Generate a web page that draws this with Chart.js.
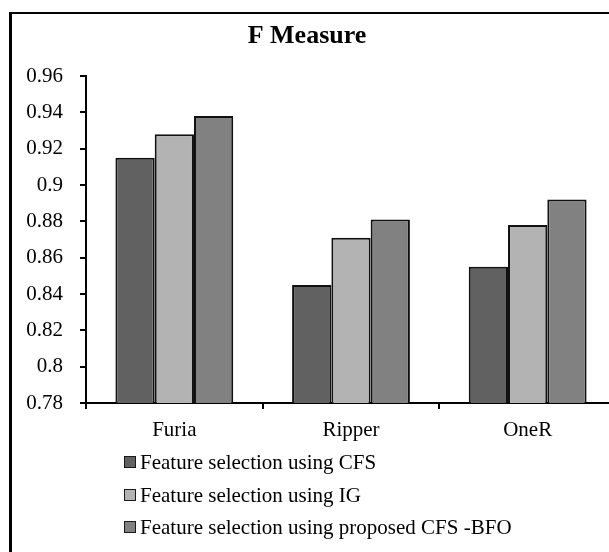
<!DOCTYPE html>
<html>
<head>
<meta charset="utf-8">
<title>F Measure</title>
<script src="https://cdn.jsdelivr.net/npm/chart.js@4"></script>
<style>
  html, body {
    margin: 0;
    padding: 0;
    width: 609px;
    height: 552px;
    overflow: hidden;
    background: #fff;
  }
  #frame {
    position: absolute;
    left: 9px;
    top: 12px;
    width: 700px;
    height: 700px;
    border-left: 3px solid #000;
    border-top: 2px solid #000;
  }
  #myChart {
    position: absolute;
    left: -2px;
    top: 0;
  }
  #legend {
    position: absolute;
    left: 124px;
    top: 446px;
    font-family: "Liberation Serif", "Times New Roman", serif;
    font-size: 21px;
    color: #000;
  }
  .legend-row {
    display: flex;
    align-items: center;
    height: 32.5px;
    line-height: 32.5px;
    white-space: nowrap;
  }
  .legend-box {
    width: 12px;
    height: 12px;
    box-sizing: border-box;
    border: 1.5px solid #1a1a1a;
    margin-right: 4px;
  }
</style>
</head>
<body>
<div id="frame"></div>
<canvas id="myChart" width="640" height="453"></canvas>
<div id="legend"></div>

<script>
// chart values
const categories = ["Furia", "Ripper", "OneR"];
const seriesNames = [
  "Feature selection using CFS",
  "Feature selection using IG",
  "Feature selection using proposed CFS -BFO",
];
const cfsValues = [0.915, 0.845, 0.855];
const igValues = [0.928, 0.871, 0.878];
const cfsBfoValues = [0.938, 0.881, 0.892];
const seriesColors = ["#616161", "#b3b3b3", "#818181"];

const yMin = 0.78;
const yMax = 0.96;
const yStep = 0.02;

const serif = "'Liberation Serif', 'Times New Roman', serif";

document.addEventListener("DOMContentLoaded", () => {
  const ctx = document.getElementById("myChart");
  const allValues = [cfsValues, igValues, cfsBfoValues];

  const datasets = seriesNames.map((name, i) => ({
    label: name,
    data: allValues[i],
    backgroundColor: seriesColors[i],
    borderColor: "#111",
    borderWidth: 2,
    categoryPercentage: 0.667,
    barPercentage: 1.0,
  }));

  const chart = new Chart(ctx, {
    type: "bar",
    data: {
      labels: categories,
      datasets: datasets,
    },
    options: {
      responsive: false,
      animation: false,
      layout: {
        padding: { left: 0, right: 22, top: 0, bottom: 0 },
      },
      scales: {
        x: {
          grid: {
            display: true,
            drawOnChartArea: false,
            drawTicks: true,
            tickLength: 6,
            color: "#000",
            lineWidth: 2,
          },
          border: { display: true, color: "#000", width: 2 },
          ticks: {
            color: "#000",
            padding: 9,
            font: { family: serif, size: 21 },
          },
          afterFit: (scale) => {
            scale.height = 50;
          },
        },
        y: {
          min: yMin,
          max: yMax,
          grid: {
            display: true,
            drawOnChartArea: false,
            drawTicks: true,
            tickLength: 6,
            color: "#000",
            lineWidth: 2,
          },
          border: { display: true, color: "#000", width: 2 },
          ticks: {
            stepSize: yStep,
            color: "#000",
            padding: 17,
            font: { family: serif, size: 21 },
            callback: (value) => String(parseFloat(Number(value).toFixed(2))),
          },
          afterFit: (scale) => {
            scale.width = 88;
          },
        },
      },
      plugins: {
        legend: { display: false },
        tooltip: { enabled: false },
        title: {
          display: true,
          text: "F Measure",
          color: "#000",
          font: { family: serif, size: 26, weight: "bold", lineHeight: 1.2 },
          padding: { top: 20.6, bottom: 24.2 },
        },
      },
    },
  });

  // legend below the chart, one series per row
  const legendEl = document.getElementById("legend");
  chart.data.datasets.forEach((ds) => {
    const row = document.createElement("div");
    row.className = "legend-row";
    const box = document.createElement("span");
    box.className = "legend-box";
    box.style.background = ds.backgroundColor;
    const label = document.createElement("span");
    label.textContent = ds.label;
    row.appendChild(box);
    row.appendChild(label);
    legendEl.appendChild(row);
  });
});
</script>
</body>
</html>
